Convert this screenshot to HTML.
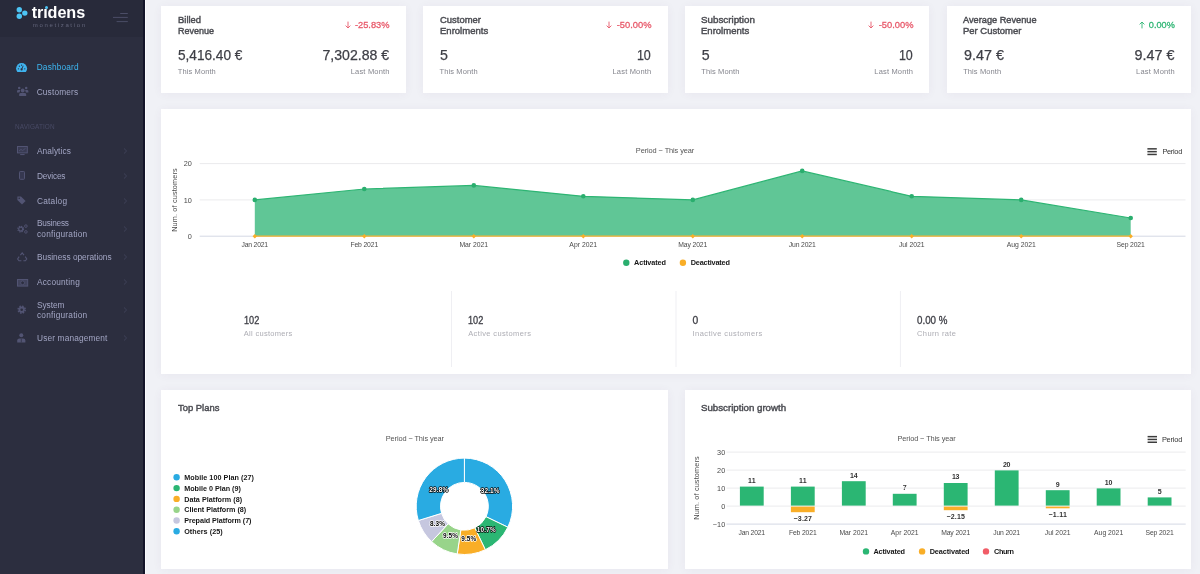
<!DOCTYPE html>
<html><head><meta charset="utf-8"><title>Dashboard</title>
<style>
*{box-sizing:border-box;margin:0;padding:0}
html,body{width:1200px;height:574px;overflow:hidden;background:#f0f1f6;font-family:"Liberation Sans",sans-serif}
body{position:relative}
.abs{position:absolute}
#root{position:absolute;left:0;top:0;width:1200px;height:574px;will-change:transform}
.card{position:absolute;background:#fff;box-shadow:0 1px 9px rgba(82,63,105,.055)}
.t{position:absolute;white-space:nowrap;line-height:1}
svg{overflow:visible}
</style></head><body><div id="root">
<div class="abs" style="left:0;top:0;width:143px;height:574px;background:#2c2e3f"></div>
<div class="abs" style="left:0;top:0;width:143px;height:37px;background:#282a3a"></div>
<div class="abs" style="left:143px;top:0;width:1.5px;height:574px;background:#131429"></div>
<div class="abs" style="left:144.5px;top:0;width:1.5px;height:574px;background:#fafafc"></div>
<svg class="abs" style="left:0;top:0" width="145" height="38" viewBox="0 0 145 38"><circle cx="19.3" cy="9.7" r="2.7" fill="#4cc4f4"/><circle cx="24.8" cy="13.1" r="2.7" fill="#4cc4f4"/><circle cx="19.3" cy="16.2" r="2.7" fill="#4cc4f4"/><g stroke="#4b4d66" stroke-width="1"><line x1="120.2" y1="13.5" x2="127.8" y2="13.5"/><line x1="113" y1="17.4" x2="127.8" y2="17.4"/><line x1="116.6" y1="21.6" x2="127.8" y2="21.6"/></g></svg>
<div class="t" style="left:31.70px;top:4px;font-size:16.2px;color:#ffffff;font-weight:bold;letter-spacing:-0.085px;">trıdens</div>
<div class="t" style="left:32.80px;top:22px;font-size:6.0px;color:#63657b;letter-spacing:1.653px;">monetization</div>
<div class="abs" style="left:44.9px;top:5.7px;width:3.2px;height:3.2px;border-radius:50%;background:#4cc4f4"></div>
<div class="t" style="left:36.70px;top:63px;font-size:8.3px;color:#3db8f3;letter-spacing:0.174px;">Dashboard</div>
<div class="t" style="left:36.70px;top:88px;font-size:8.3px;color:#a3a6c4;letter-spacing:0.159px;">Customers</div>
<div class="t" style="left:15.00px;top:124px;font-size:6.4px;color:#484a65;letter-spacing:0.120px;">NAVIGATION</div>
<div class="t" style="left:37.00px;top:147px;font-size:8.3px;color:#a3a6c4;letter-spacing:0.073px;">Analytics</div>
<div class="t" style="left:37.00px;top:172px;font-size:8.3px;color:#a3a6c4;letter-spacing:-0.170px;">Devices</div>
<div class="t" style="left:37.00px;top:197px;font-size:8.3px;color:#a3a6c4;letter-spacing:0.232px;">Catalog</div>
<div class="t" style="left:37.00px;top:219px;font-size:8.3px;color:#a3a6c4;letter-spacing:-0.240px;">Business</div>
<div class="t" style="left:37.00px;top:230px;font-size:8.3px;color:#a3a6c4;letter-spacing:0.223px;">configuration</div>
<div class="t" style="left:37.00px;top:253px;font-size:8.3px;color:#a3a6c4;letter-spacing:-0.008px;">Business operations</div>
<div class="t" style="left:37.00px;top:278px;font-size:8.3px;color:#a3a6c4;letter-spacing:0.193px;">Accounting</div>
<div class="t" style="left:37.00px;top:301px;font-size:8.3px;color:#a3a6c4;letter-spacing:-0.055px;">System</div>
<div class="t" style="left:37.00px;top:311px;font-size:8.3px;color:#a3a6c4;letter-spacing:0.223px;">configuration</div>
<div class="t" style="left:37.00px;top:334px;font-size:8.3px;color:#a3a6c4;letter-spacing:0.152px;">User management</div>
<svg class="abs" style="left:122px;top:146.6px" width="7" height="8" viewBox="0 0 7 8"><path d="M2 1.5 L4.6 4 L2 6.5" fill="none" stroke="#42445c" stroke-width="0.9"/></svg>
<svg class="abs" style="left:122px;top:171.7px" width="7" height="8" viewBox="0 0 7 8"><path d="M2 1.5 L4.6 4 L2 6.5" fill="none" stroke="#42445c" stroke-width="0.9"/></svg>
<svg class="abs" style="left:122px;top:196.6px" width="7" height="8" viewBox="0 0 7 8"><path d="M2 1.5 L4.6 4 L2 6.5" fill="none" stroke="#42445c" stroke-width="0.9"/></svg>
<svg class="abs" style="left:122px;top:224.8px" width="7" height="8" viewBox="0 0 7 8"><path d="M2 1.5 L4.6 4 L2 6.5" fill="none" stroke="#42445c" stroke-width="0.9"/></svg>
<svg class="abs" style="left:122px;top:252.8px" width="7" height="8" viewBox="0 0 7 8"><path d="M2 1.5 L4.6 4 L2 6.5" fill="none" stroke="#42445c" stroke-width="0.9"/></svg>
<svg class="abs" style="left:122px;top:278.0px" width="7" height="8" viewBox="0 0 7 8"><path d="M2 1.5 L4.6 4 L2 6.5" fill="none" stroke="#42445c" stroke-width="0.9"/></svg>
<svg class="abs" style="left:122px;top:306.0px" width="7" height="8" viewBox="0 0 7 8"><path d="M2 1.5 L4.6 4 L2 6.5" fill="none" stroke="#42445c" stroke-width="0.9"/></svg>
<svg class="abs" style="left:122px;top:334.2px" width="7" height="8" viewBox="0 0 7 8"><path d="M2 1.5 L4.6 4 L2 6.5" fill="none" stroke="#42445c" stroke-width="0.9"/></svg>
<svg class="abs" style="left:16.4px;top:62.8px" width="11.2" height="9.2" viewBox="0 0 11.2 9.2"><path d="M1.3 9 A5.5 5.5 0 1 1 9.9 9 Z" fill="#3fb3ee"/><circle cx="5.6" cy="6.4" r="1.1" fill="#2c2e3f"/><path d="M5.6 6.4 L7.2 2.8" stroke="#2c2e3f" stroke-width=".9"/><circle cx="2.4" cy="5.8" r=".65" fill="#2c2e3f"/><circle cx="8.8" cy="5.8" r=".65" fill="#2c2e3f"/><circle cx="3.4" cy="3.2" r=".65" fill="#2c2e3f"/><circle cx="5.6" cy="2.2" r=".65" fill="#2c2e3f"/></svg>
<svg class="abs" style="left:16.8px;top:86.2px" width="11.4" height="10" viewBox="0 0 11.4 10"><g fill="#525473"><circle cx="5.7" cy="4.5" r="1.9"/><path d="M2.2 10 V8.4 Q2.2 6.9 3.8 6.9 H7.6 Q9.2 6.9 9.2 8.4 V10 Z"/><circle cx="2.2" cy="2.1" r="1.25"/><circle cx="9.2" cy="2.1" r="1.25"/><path d="M0 6.6 V5.2 Q0 3.9 1.3 3.9 H3.2 Q3 5.6 2.4 6.6 Z"/><path d="M11.4 6.6 V5.2 Q11.4 3.9 10.1 3.9 H8.2 Q8.4 5.6 9 6.6 Z"/></g></svg>
<svg class="abs" style="left:16.8px;top:145.8px" width="10.8" height="9.2" viewBox="0 0 10.8 9.2"><rect x=".5" y=".5" width="9.8" height="6.4" fill="#393b53" stroke="#525473" stroke-width="1"/><path d="M2 5 L4 3.4 L5.6 4.6 L8.6 2.2" fill="none" stroke="#525473" stroke-width=".8"/><path d="M3.2 8.6 H7.6" stroke="#525473" stroke-width="1"/></svg>
<svg class="abs" style="left:19px;top:171.4px" width="6" height="8.8" viewBox="0 0 6 8.8"><rect x=".5" y=".5" width="5" height="7.8" rx=".8" fill="#363850" stroke="#525473" stroke-width="1"/></svg>
<svg class="abs" style="left:16.8px;top:196px" width="9" height="9" viewBox="0 0 9 9"><path d="M0.4 0.4 H4 L8.6 5 L5 8.6 L0.4 4 Z" fill="#525473"/><circle cx="2.2" cy="2.2" r=".8" fill="#2c2e3f"/></svg>
<svg class="abs" style="left:16.8px;top:223.6px" width="11.4" height="10" viewBox="0 0 11.4 10"><g fill="none" stroke="#525473"><circle cx="3.7" cy="5.1" r="2.9" stroke-width="1.1" stroke-dasharray="1.3 .98"/><circle cx="3.7" cy="5.1" r="2" stroke-width="1.2"/><circle cx="8.9" cy="2.1" r="1.3" stroke-width=".9"/><circle cx="8.9" cy="7.9" r="1.3" stroke-width=".9"/></g></svg>
<svg class="abs" style="left:16.8px;top:251.8px" width="10.4" height="9.6" viewBox="0 0 10.4 9.6"><g fill="none" stroke="#525473" stroke-width="1.1"><path d="M3.4 3.2 L5.2 .8 L7 3.2"/><path d="M8.2 4.6 L9.8 7 L8.4 8.8 H6.4"/><path d="M2.2 4.6 L.6 7 L2 8.8 H4.4"/></g></svg>
<svg class="abs" style="left:16.8px;top:278.6px" width="11.2" height="7.6" viewBox="0 0 11.2 7.6"><rect x=".5" y=".5" width="10.2" height="6.6" fill="#41435c" stroke="#525473" stroke-width="1"/><circle cx="5.6" cy="3.8" r="1.9" fill="#2c2e3f" stroke="#525473" stroke-width=".8"/></svg>
<svg class="abs" style="left:16.8px;top:305.2px" width="9.4" height="9.4" viewBox="0 0 9.4 9.4"><g fill="none" stroke="#525473"><circle cx="4.7" cy="4.7" r="3.5" stroke-width="1.6" stroke-dasharray="1.5 1.25"/><circle cx="4.7" cy="4.7" r="2.2" stroke-width="1.8"/></g></svg>
<svg class="abs" style="left:16.8px;top:333.4px" width="8.6" height="9.4" viewBox="0 0 8.6 9.4"><g fill="#525473"><circle cx="4.3" cy="2.2" r="2"/><path d="M0.2 9.4 V7.6 Q.2 5.4 2.4 5.4 H6.2 Q8.4 5.4 8.4 7.6 V9.4 Z"/></g><path d="M4.3 5.8 V9.4" stroke="#2c2e3f" stroke-width=".7"/></svg>
<div class="card" style="left:161.2px;top:6px;width:244.5px;height:87px"></div>
<div class="card" style="left:423.0px;top:6px;width:244.5px;height:87px"></div>
<div class="card" style="left:684.8px;top:6px;width:244.5px;height:87px"></div>
<div class="card" style="left:946.6px;top:6px;width:244.5px;height:87px"></div>
<div class="card" style="left:161.2px;top:109px;width:1029.9px;height:265px"></div>
<div class="card" style="left:161.2px;top:390px;width:506.6px;height:179px"></div>
<div class="card" style="left:684.8px;top:390px;width:506.3px;height:179px"></div>
<div class="t" style="left:177.80px;top:15px;font-size:9.9px;color:#4b4c52;transform:scaleX(0.9540);transform-origin:0 50%;-webkit-text-stroke:.45px #4b4c52;">Billed</div>
<div class="t" style="left:177.80px;top:26px;font-size:9.9px;color:#4b4c52;transform:scaleX(0.9109);transform-origin:0 50%;-webkit-text-stroke:.45px #4b4c52;">Revenue</div>
<div class="t" style="left:178.20px;top:48px;font-size:14.2px;color:#3e3f46;transform:scaleX(0.9595);transform-origin:0 50%;-webkit-text-stroke:.25px #3e3f46;">5,416.40 €</div>
<div class="t" style="left:322.32px;top:48px;font-size:14.2px;color:#3e3f46;transform:scaleX(0.9923);transform-origin:100% 50%;-webkit-text-stroke:.25px #3e3f46;">7,302.88 €</div>
<div class="t" style="left:177.80px;top:68px;font-size:7.5px;color:#85868e;letter-spacing:0.100px;">This Month</div>
<div class="t" style="left:350.74px;top:68px;font-size:7.5px;color:#85868e;letter-spacing:0.177px;">Last Month</div>
<div class="t" style="left:352.94px;top:20px;font-size:9.8px;color:#e85a6b;transform:scaleX(0.9479);transform-origin:100% 50%;-webkit-text-stroke:.3px #e85a6b;">-25.83%</div>
<svg class="abs" style="left:344.8px;top:20.8px" width="6" height="8" viewBox="0 0 6 8"><path d="M3 .6 V7 M.6 4.6 L3 7 L5.4 4.6" fill="none" stroke="#e85a6b" stroke-width=".9"/></svg>
<div class="t" style="left:439.59px;top:15px;font-size:9.9px;color:#4b4c52;transform:scaleX(0.9554);transform-origin:0 50%;-webkit-text-stroke:.45px #4b4c52;">Customer</div>
<div class="t" style="left:439.59px;top:26px;font-size:9.9px;color:#4b4c52;transform:scaleX(0.9646);transform-origin:0 50%;-webkit-text-stroke:.45px #4b4c52;">Enrolments</div>
<div class="t" style="left:439.99px;top:48px;font-size:14.2px;color:#3e3f46;-webkit-text-stroke:.25px #3e3f46;">5</div>
<div class="t" style="left:635.43px;top:48px;font-size:14.2px;color:#3e3f46;transform:scaleX(0.8800);transform-origin:100% 50%;-webkit-text-stroke:.25px #3e3f46;">10</div>
<div class="t" style="left:439.59px;top:68px;font-size:7.5px;color:#85868e;letter-spacing:0.100px;">This Month</div>
<div class="t" style="left:612.52px;top:68px;font-size:7.5px;color:#85868e;letter-spacing:0.177px;">Last Month</div>
<div class="t" style="left:614.72px;top:20px;font-size:9.8px;color:#e85a6b;transform:scaleX(0.9534);transform-origin:100% 50%;-webkit-text-stroke:.3px #e85a6b;">-50.00%</div>
<svg class="abs" style="left:606.4px;top:20.8px" width="6" height="8" viewBox="0 0 6 8"><path d="M3 .6 V7 M.6 4.6 L3 7 L5.4 4.6" fill="none" stroke="#e85a6b" stroke-width=".9"/></svg>
<div class="t" style="left:701.37px;top:15px;font-size:9.9px;color:#4b4c52;transform:scaleX(0.9912);transform-origin:0 50%;-webkit-text-stroke:.45px #4b4c52;">Subscription</div>
<div class="t" style="left:701.37px;top:26px;font-size:9.9px;color:#4b4c52;transform:scaleX(0.9646);transform-origin:0 50%;-webkit-text-stroke:.45px #4b4c52;">Enrolments</div>
<div class="t" style="left:701.77px;top:48px;font-size:14.2px;color:#3e3f46;-webkit-text-stroke:.25px #3e3f46;">5</div>
<div class="t" style="left:897.22px;top:48px;font-size:14.2px;color:#3e3f46;transform:scaleX(0.8800);transform-origin:100% 50%;-webkit-text-stroke:.25px #3e3f46;">10</div>
<div class="t" style="left:701.37px;top:68px;font-size:7.5px;color:#85868e;letter-spacing:0.100px;">This Month</div>
<div class="t" style="left:874.31px;top:68px;font-size:7.5px;color:#85868e;letter-spacing:0.177px;">Last Month</div>
<div class="t" style="left:876.51px;top:20px;font-size:9.8px;color:#e85a6b;transform:scaleX(0.9534);transform-origin:100% 50%;-webkit-text-stroke:.3px #e85a6b;">-50.00%</div>
<svg class="abs" style="left:868.2px;top:20.8px" width="6" height="8" viewBox="0 0 6 8"><path d="M3 .6 V7 M.6 4.6 L3 7 L5.4 4.6" fill="none" stroke="#e85a6b" stroke-width=".9"/></svg>
<div class="t" style="left:963.16px;top:15px;font-size:9.9px;color:#4b4c52;transform:scaleX(0.9320);transform-origin:0 50%;-webkit-text-stroke:.45px #4b4c52;">Average Revenue</div>
<div class="t" style="left:963.16px;top:26px;font-size:9.9px;color:#4b4c52;transform:scaleX(0.9579);transform-origin:0 50%;-webkit-text-stroke:.45px #4b4c52;">Per Customer</div>
<div class="t" style="left:963.56px;top:48px;font-size:14.2px;color:#3e3f46;transform:scaleX(1.0106);transform-origin:0 50%;-webkit-text-stroke:.25px #3e3f46;">9.47 €</div>
<div class="t" style="left:1135.32px;top:48px;font-size:14.2px;color:#3e3f46;transform:scaleX(1.0106);transform-origin:100% 50%;-webkit-text-stroke:.25px #3e3f46;">9.47 €</div>
<div class="t" style="left:963.16px;top:68px;font-size:7.5px;color:#85868e;letter-spacing:0.100px;">This Month</div>
<div class="t" style="left:1136.10px;top:68px;font-size:7.5px;color:#85868e;letter-spacing:0.177px;">Last Month</div>
<div class="t" style="left:1147.01px;top:20px;font-size:9.8px;color:#2fb574;transform:scaleX(0.9357);transform-origin:100% 50%;-webkit-text-stroke:.3px #2fb574;">0.00%</div>
<svg class="abs" style="left:1138.8px;top:20.8px" width="6" height="8" viewBox="0 0 6 8"><path d="M3 7.4 V1 M.6 3.4 L3 1 L5.4 3.4" fill="none" stroke="#2fb574" stroke-width=".9"/></svg>
<svg class="abs" style="left:0;top:0" width="1200" height="574" viewBox="0 0 1200 574"><line x1="199.7" x2="1185.5" y1="163.6" y2="163.6" stroke="#ebebed" stroke-width="1"/><line x1="199.7" x2="1185.5" y1="199.9" y2="199.9" stroke="#ebebed" stroke-width="1"/><line x1="199.7" x2="1185.5" y1="236.2" y2="236.2" stroke="#d4d8e4" stroke-width="1"/><polygon points="254.8,236.2 254.8,199.9 364.3,189.0 473.8,185.4 583.3,196.3 692.8,199.9 802.2,170.9 911.7,196.3 1021.2,199.9 1130.7,218.0 1130.7,236.2" fill="#60c696"/><polyline points="254.8,199.9 364.3,189.0 473.8,185.4 583.3,196.3 692.8,199.9 802.2,170.9 911.7,196.3 1021.2,199.9 1130.7,218.0" fill="none" stroke="#2db573" stroke-width="1.2"/><line x1="254.8" x2="1130.7" y1="236.2" y2="236.2" stroke="#f9b233" stroke-width="1.2"/><circle cx="254.8" cy="199.9" r="2.3" fill="#2aae6e"/><path d="M254.8 234.0 l2.2 2.2 l-2.2 2.2 l-2.2 -2.2 Z" fill="#f9ae27"/><circle cx="364.3" cy="189.0" r="2.3" fill="#2aae6e"/><path d="M364.3 234.0 l2.2 2.2 l-2.2 2.2 l-2.2 -2.2 Z" fill="#f9ae27"/><circle cx="473.8" cy="185.4" r="2.3" fill="#2aae6e"/><path d="M473.8 234.0 l2.2 2.2 l-2.2 2.2 l-2.2 -2.2 Z" fill="#f9ae27"/><circle cx="583.3" cy="196.3" r="2.3" fill="#2aae6e"/><path d="M583.3 234.0 l2.2 2.2 l-2.2 2.2 l-2.2 -2.2 Z" fill="#f9ae27"/><circle cx="692.8" cy="199.9" r="2.3" fill="#2aae6e"/><path d="M692.8 234.0 l2.2 2.2 l-2.2 2.2 l-2.2 -2.2 Z" fill="#f9ae27"/><circle cx="802.2" cy="170.9" r="2.3" fill="#2aae6e"/><path d="M802.2 234.0 l2.2 2.2 l-2.2 2.2 l-2.2 -2.2 Z" fill="#f9ae27"/><circle cx="911.7" cy="196.3" r="2.3" fill="#2aae6e"/><path d="M911.7 234.0 l2.2 2.2 l-2.2 2.2 l-2.2 -2.2 Z" fill="#f9ae27"/><circle cx="1021.2" cy="199.9" r="2.3" fill="#2aae6e"/><path d="M1021.2 234.0 l2.2 2.2 l-2.2 2.2 l-2.2 -2.2 Z" fill="#f9ae27"/><circle cx="1130.7" cy="218.0" r="2.3" fill="#2aae6e"/><path d="M1130.7 234.0 l2.2 2.2 l-2.2 2.2 l-2.2 -2.2 Z" fill="#f9ae27"/><circle cx="626.3" cy="262.7" r="3.2" fill="#2aae6e"/><circle cx="682.9" cy="262.7" r="3.2" fill="#f9ae27"/><rect x="1147.4" y="148.10" width="9.4" height="1.5" fill="#3c3c3c"/><rect x="1147.4" y="150.90" width="9.4" height="1.5" fill="#3c3c3c"/><rect x="1147.4" y="153.70" width="9.4" height="1.5" fill="#3c3c3c"/><rect x="1147.6" y="435.90" width="9.4" height="1.5" fill="#3c3c3c"/><rect x="1147.6" y="438.70" width="9.4" height="1.5" fill="#3c3c3c"/><rect x="1147.6" y="441.50" width="9.4" height="1.5" fill="#3c3c3c"/><line x1="451.5" x2="451.5" y1="291" y2="367" stroke="#efeff3" stroke-width="1"/><line x1="676" x2="676" y1="291" y2="367" stroke="#efeff3" stroke-width="1"/><line x1="900.4" x2="900.4" y1="291" y2="367" stroke="#efeff3" stroke-width="1"/></svg>
<div class="t" style="left:183.68px;top:160px;font-size:7.3px;color:#4a4a4a;">20</div>
<div class="t" style="left:183.68px;top:197px;font-size:7.3px;color:#4a4a4a;">10</div>
<div class="t" style="left:187.74px;top:233px;font-size:7.3px;color:#4a4a4a;">0</div>
<div class="t" style="left:241.50px;top:242px;font-size:6.8px;color:#4a4a4a;letter-spacing:-0.197px;">Jan 2021</div>
<div class="t" style="left:350.39px;top:242px;font-size:6.8px;color:#4a4a4a;letter-spacing:-0.134px;">Feb 2021</div>
<div class="t" style="left:459.48px;top:242px;font-size:6.8px;color:#4a4a4a;letter-spacing:-0.018px;">Mar 2021</div>
<div class="t" style="left:569.37px;top:242px;font-size:6.8px;color:#4a4a4a;letter-spacing:0.029px;">Apr 2021</div>
<div class="t" style="left:678.21px;top:242px;font-size:6.8px;color:#4a4a4a;letter-spacing:-0.109px;">May 2021</div>
<div class="t" style="left:788.75px;top:242px;font-size:6.8px;color:#4a4a4a;letter-spacing:-0.140px;">Jun 2021</div>
<div class="t" style="left:898.89px;top:242px;font-size:6.8px;color:#4a4a4a;">Jul 2021</div>
<div class="t" style="left:1006.68px;top:242px;font-size:6.8px;color:#4a4a4a;">Aug 2021</div>
<div class="t" style="left:1116.62px;top:242px;font-size:6.8px;color:#4a4a4a;letter-spacing:-0.131px;">Sep 2021</div>
<div class="t" style="left:635.85px;top:147px;font-size:7.4px;color:#555;letter-spacing:-0.095px;">Period − This year</div>
<div class="t" style="left:1162.40px;top:148px;font-size:7.4px;color:#333;letter-spacing:-0.298px;">Period</div>
<div class="t" style="left:634.10px;top:259px;font-size:7.3px;color:#161616;font-weight:bold;letter-spacing:-0.133px;">Activated</div>
<div class="t" style="left:690.70px;top:259px;font-size:7.3px;color:#161616;font-weight:bold;letter-spacing:-0.168px;">Deactivated</div>
<div class="t" style="left:174.8px;top:200.0px;font-size:7.3px;color:#4a4a4a;letter-spacing:0.146px;transform:translate(-50%,-50%) rotate(-90deg);transform-origin:50% 50%">Num. of customers</div>
<div class="t" style="left:243.80px;top:316px;font-size:10.3px;color:#404148;transform:scaleX(0.8903);transform-origin:0 50%;-webkit-text-stroke:.3px #404148;">102</div>
<div class="t" style="left:243.80px;top:330px;font-size:7.5px;color:#adadb4;letter-spacing:0.291px;">All customers</div>
<div class="t" style="left:468.20px;top:316px;font-size:10.3px;color:#404148;transform:scaleX(0.8903);transform-origin:0 50%;-webkit-text-stroke:.3px #404148;">102</div>
<div class="t" style="left:468.20px;top:330px;font-size:7.5px;color:#adadb4;letter-spacing:0.373px;">Active customers</div>
<div class="t" style="left:692.60px;top:316px;font-size:10.3px;color:#404148;-webkit-text-stroke:.3px #404148;">0</div>
<div class="t" style="left:692.60px;top:330px;font-size:7.5px;color:#adadb4;letter-spacing:0.416px;">Inactive customers</div>
<div class="t" style="left:917.00px;top:316px;font-size:10.3px;color:#404148;transform:scaleX(0.9480);transform-origin:0 50%;-webkit-text-stroke:.3px #404148;">0.00 %</div>
<div class="t" style="left:917.00px;top:330px;font-size:7.5px;color:#adadb4;letter-spacing:0.396px;">Churn rate</div>
<div class="t" style="left:178.20px;top:403px;font-size:9.9px;color:#4b4c52;transform:scaleX(0.9545);transform-origin:0 50%;-webkit-text-stroke:.45px #4b4c52;">Top Plans</div>
<div class="t" style="left:701.20px;top:403px;font-size:9.9px;color:#4b4c52;transform:scaleX(0.9811);transform-origin:0 50%;-webkit-text-stroke:.45px #4b4c52;">Subscription growth</div>
<div class="t" style="left:385.75px;top:435px;font-size:7.4px;color:#555;letter-spacing:-0.107px;">Period − This year</div>
<div class="t" style="left:897.40px;top:435px;font-size:7.4px;color:#555;letter-spacing:-0.101px;">Period − This year</div>
<div class="t" style="left:1161.90px;top:436px;font-size:7.4px;color:#333;letter-spacing:-0.198px;">Period</div>
<div class="t" style="left:184.20px;top:474px;font-size:7.2px;color:#161616;font-weight:bold;letter-spacing:0.057px;">Mobile 100 Plan (27)</div>
<div class="t" style="left:184.20px;top:485px;font-size:7.2px;color:#161616;font-weight:bold;letter-spacing:-0.007px;">Mobile 0 Plan (9)</div>
<div class="t" style="left:184.20px;top:496px;font-size:7.2px;color:#161616;font-weight:bold;letter-spacing:0.024px;">Data Platform (8)</div>
<div class="t" style="left:184.20px;top:506px;font-size:7.2px;color:#161616;font-weight:bold;letter-spacing:0.005px;">Client Platform (8)</div>
<div class="t" style="left:184.20px;top:517px;font-size:7.2px;color:#161616;font-weight:bold;letter-spacing:-0.053px;">Prepaid Platform (7)</div>
<div class="t" style="left:184.20px;top:528px;font-size:7.2px;color:#161616;font-weight:bold;letter-spacing:0.049px;">Others (25)</div>
<svg class="abs" style="left:0;top:0" width="1200" height="574" viewBox="0 0 1200 574"><circle cx="176.6" cy="477.2" r="3.2" fill="#29abe2"/><circle cx="176.6" cy="488.1" r="3.2" fill="#2bb673"/><circle cx="176.6" cy="498.9" r="3.2" fill="#f9ae27"/><circle cx="176.6" cy="509.7" r="3.2" fill="#98d48a"/><circle cx="176.6" cy="520.5" r="3.2" fill="#c6c7df"/><circle cx="176.6" cy="531.2" r="3.2" fill="#29abe2"/><path d="M464.40 458.10 A48.2 48.2 0 0 1 507.83 527.21 L485.93 516.67 A23.9 23.9 0 0 0 464.40 482.40 Z" fill="#29abe2" stroke="#fff" stroke-width="1"/><path d="M507.83 527.21 A48.2 48.2 0 0 1 485.31 549.73 L474.77 527.83 A23.9 23.9 0 0 0 485.93 516.67 Z" fill="#2bb673" stroke="#fff" stroke-width="1"/><path d="M485.31 549.73 A48.2 48.2 0 0 1 457.22 553.96 L460.84 529.93 A23.9 23.9 0 0 0 474.77 527.83 Z" fill="#f9ae27" stroke="#fff" stroke-width="1"/><path d="M457.22 553.96 A48.2 48.2 0 0 1 431.62 541.63 L448.14 523.82 A23.9 23.9 0 0 0 460.84 529.93 Z" fill="#98d48a" stroke="#fff" stroke-width="1"/><path d="M431.62 541.63 A48.2 48.2 0 0 1 418.34 520.51 L441.56 513.34 A23.9 23.9 0 0 0 448.14 523.82 Z" fill="#c6c7df" stroke="#fff" stroke-width="1"/><path d="M418.34 520.51 A48.2 48.2 0 0 1 464.40 458.10 L464.40 482.40 A23.9 23.9 0 0 0 441.56 513.34 Z" fill="#29abe2" stroke="#fff" stroke-width="1"/><text x="438.8" y="491.7" text-anchor="middle" font-family="Liberation Sans" font-weight="bold" font-size="6.4" letter-spacing=".15" fill="#fff" stroke="#000" stroke-width="1.4" paint-order="stroke" stroke-linejoin="round">29.8%</text><text x="490.2" y="493.0" text-anchor="middle" font-family="Liberation Sans" font-weight="bold" font-size="6.4" letter-spacing=".15" fill="#fff" stroke="#000" stroke-width="1.4" paint-order="stroke" stroke-linejoin="round">32.1%</text><text x="486.3" y="532.2" text-anchor="middle" font-family="Liberation Sans" font-weight="bold" font-size="6.4" letter-spacing=".15" fill="#fff" stroke="#000" stroke-width="1.4" paint-order="stroke" stroke-linejoin="round">10.7%</text><text x="468.8" y="540.8" text-anchor="middle" font-family="Liberation Sans" font-weight="bold" font-size="6.4" letter-spacing=".15" fill="#000" stroke="#fff" stroke-width="1.4" paint-order="stroke" stroke-linejoin="round">9.5%</text><text x="450.5" y="538.2" text-anchor="middle" font-family="Liberation Sans" font-weight="bold" font-size="6.4" letter-spacing=".15" fill="#000" stroke="#fff" stroke-width="1.4" paint-order="stroke" stroke-linejoin="round">9.5%</text><text x="437.5" y="526.4" text-anchor="middle" font-family="Liberation Sans" font-weight="bold" font-size="6.4" letter-spacing=".15" fill="#000" stroke="#fff" stroke-width="1.4" paint-order="stroke" stroke-linejoin="round">8.3%</text></svg>
<div class="t" style="left:748.00px;top:477px;font-size:7px;color:#333;font-weight:bold;letter-spacing:0.200px;">11</div>
<div class="t" style="left:738.50px;top:530px;font-size:6.8px;color:#4a4a4a;letter-spacing:-0.197px;">Jan 2021</div>
<div class="t" style="left:798.98px;top:477px;font-size:7px;color:#333;font-weight:bold;letter-spacing:0.200px;">11</div>
<div class="t" style="left:793.62px;top:515px;font-size:7px;color:#333;font-weight:bold;letter-spacing:0.147px;">−3.27</div>
<div class="t" style="left:788.88px;top:530px;font-size:6.8px;color:#4a4a4a;letter-spacing:-0.134px;">Feb 2021</div>
<div class="t" style="left:849.95px;top:472px;font-size:7px;color:#333;font-weight:bold;letter-spacing:-0.186px;">14</div>
<div class="t" style="left:839.45px;top:530px;font-size:6.8px;color:#4a4a4a;letter-spacing:-0.018px;">Mar 2021</div>
<div class="t" style="left:902.78px;top:484px;font-size:7px;color:#333;font-weight:bold;">7</div>
<div class="t" style="left:890.82px;top:530px;font-size:6.8px;color:#4a4a4a;letter-spacing:0.029px;">Apr 2021</div>
<div class="t" style="left:951.90px;top:473px;font-size:7px;color:#333;font-weight:bold;letter-spacing:-0.186px;">13</div>
<div class="t" style="left:946.55px;top:513px;font-size:7px;color:#333;font-weight:bold;letter-spacing:0.147px;">−2.15</div>
<div class="t" style="left:941.15px;top:530px;font-size:6.8px;color:#4a4a4a;letter-spacing:-0.109px;">May 2021</div>
<div class="t" style="left:1002.88px;top:461px;font-size:7px;color:#333;font-weight:bold;letter-spacing:-0.186px;">20</div>
<div class="t" style="left:993.17px;top:530px;font-size:6.8px;color:#4a4a4a;letter-spacing:-0.140px;">Jun 2021</div>
<div class="t" style="left:1055.70px;top:481px;font-size:7px;color:#333;font-weight:bold;">9</div>
<div class="t" style="left:1048.50px;top:511px;font-size:7px;color:#333;font-weight:bold;letter-spacing:0.243px;">−1.11</div>
<div class="t" style="left:1044.80px;top:530px;font-size:6.8px;color:#4a4a4a;">Jul 2021</div>
<div class="t" style="left:1104.83px;top:479px;font-size:7px;color:#333;font-weight:bold;letter-spacing:-0.186px;">10</div>
<div class="t" style="left:1094.08px;top:530px;font-size:6.8px;color:#4a4a4a;">Aug 2021</div>
<div class="t" style="left:1157.65px;top:488px;font-size:7px;color:#333;font-weight:bold;">5</div>
<div class="t" style="left:1145.50px;top:530px;font-size:6.8px;color:#4a4a4a;letter-spacing:-0.131px;">Sep 2021</div>
<svg class="abs" style="left:0;top:0" width="1200" height="574" viewBox="0 0 1200 574"><line x1="726.5" x2="1185.7" y1="452.1" y2="452.1" stroke="#ebebed" stroke-width="1"/><line x1="726.5" x2="1185.7" y1="470.1" y2="470.1" stroke="#ebebed" stroke-width="1"/><line x1="726.5" x2="1185.7" y1="488.1" y2="488.1" stroke="#ebebed" stroke-width="1"/><line x1="726.5" x2="1185.7" y1="506.1" y2="506.1" stroke="#ebebed" stroke-width="1"/><line x1="726.5" x2="1185.7" y1="524.1" y2="524.1" stroke="#d4d8e4" stroke-width="1"/><rect x="739.9" y="486.6" width="23.8" height="19.0" fill="#2bb673"/><rect x="790.9" y="486.6" width="23.8" height="19.0" fill="#2bb673"/><rect x="790.9" y="506.6" width="23.8" height="5.6" fill="#f9ae27"/><rect x="841.9" y="481.2" width="23.8" height="24.4" fill="#2bb673"/><rect x="892.8" y="493.8" width="23.8" height="11.8" fill="#2bb673"/><rect x="943.8" y="483.0" width="23.8" height="22.6" fill="#2bb673"/><rect x="943.8" y="506.6" width="23.8" height="3.6" fill="#f9ae27"/><rect x="994.8" y="470.4" width="23.8" height="35.2" fill="#2bb673"/><rect x="1045.8" y="490.2" width="23.8" height="15.4" fill="#2bb673"/><rect x="1045.8" y="506.6" width="23.8" height="1.7" fill="#f9ae27"/><rect x="1096.7" y="488.4" width="23.8" height="17.2" fill="#2bb673"/><rect x="1147.7" y="497.4" width="23.8" height="8.2" fill="#2bb673"/><circle cx="866" cy="551.4" r="3.2" fill="#2bb673"/><circle cx="922.1" cy="551.4" r="3.2" fill="#f9ae27"/><circle cx="986" cy="551.4" r="3.2" fill="#f15c67"/></svg>
<div class="t" style="left:717.08px;top:449px;font-size:7.3px;color:#4a4a4a;">30</div>
<div class="t" style="left:717.08px;top:467px;font-size:7.3px;color:#4a4a4a;">20</div>
<div class="t" style="left:717.08px;top:485px;font-size:7.3px;color:#4a4a4a;">10</div>
<div class="t" style="left:721.14px;top:503px;font-size:7.3px;color:#4a4a4a;">0</div>
<div class="t" style="left:712.82px;top:521px;font-size:7.3px;color:#4a4a4a;">−10</div>
<div class="t" style="left:697.4px;top:487.7px;font-size:7.3px;color:#4a4a4a;letter-spacing:0.134px;transform:translate(-50%,-50%) rotate(-90deg);transform-origin:50% 50%">Num. of customers</div>
<div class="t" style="left:873.40px;top:548px;font-size:7.3px;color:#161616;font-weight:bold;letter-spacing:-0.145px;">Activated</div>
<div class="t" style="left:929.70px;top:548px;font-size:7.3px;color:#161616;font-weight:bold;letter-spacing:-0.108px;">Deactivated</div>
<div class="t" style="left:994.00px;top:548px;font-size:7.3px;color:#161616;font-weight:bold;letter-spacing:-0.373px;">Churn</div>
</div></body></html>
